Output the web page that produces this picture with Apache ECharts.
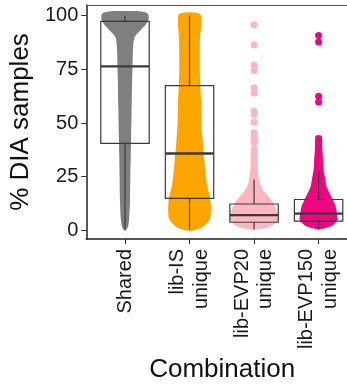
<!DOCTYPE html>
<html><head><meta charset="utf-8">
<script src="https://cdn.jsdelivr.net/npm/echarts@6/dist/echarts.min.js"></script>
<style>html,body{margin:0;padding:0;background:#fff}#c{width:347px;height:388px}</style>
</head><body><div id="c"></div>
<script>
// ---- data ----
const categories = ['Shared', 'lib-IS\nunique', 'lib-EVP20\nunique', 'lib-EVP150\nunique'];
const yTicks = [0, 25, 50, 75, 100];
// boxplot stats: [lower whisker, Q1, median, Q3, upper whisker]
const boxShared = [0.5, 40.5, 76.4, 97.4, 100];
const boxIS = [0.5, 14.9, 35.8, 67.4, 100];
const boxEVP20 = [0.5, 3.8, 7.1, 12.3, 23.7];
const boxEVP150 = [0.5, 4.3, 7.8, 14.4, 27.6];
// point-cloud outline: [value, half-width in category units]
const profileShared = [[102.2,0],[102.2,0.185],[101.5,0.325],[100.5,0.363],[98,0.363],[96,0.325],[93.5,0.247],[91,0.17],[89,0.139],[86,0.127],[82,0.121],[70,0.111],[58,0.104],[45,0.096],[36,0.09],[25,0.083],[13,0.077],[5.4,0.065],[2.3,0.051],[0.7,0.031],[-0.2,0]];
const profileIS = [[101.6,0],[101.4,0.108],[100.8,0.162],[99.5,0.181],[95,0.178],[89.6,0.162],[80,0.159],[74,0.159],[65,0.17],[58.6,0.181],[50,0.185],[44,0.198],[39.5,0.209],[31.8,0.232],[24,0.258],[19,0.286],[15.7,0.317],[9.8,0.332],[5.4,0.317],[2.3,0.232],[0.7,0.139],[-0.3,0]];
const profileEVP20 = [[39.5,0],[38.5,0.046],[30,0.054],[23.7,0.077],[20.5,0.108],[17.5,0.17],[14.4,0.258],[11.3,0.325],[8.2,0.36],[5.1,0.379],[2.8,0.309],[1.2,0.201],[0.2,0]];
const profileEVP150 = [[44.5,0],[44,0.049],[38,0.057],[32,0.07],[28.4,0.077],[23.7,0.104],[20.6,0.121],[17.5,0.167],[14.4,0.216],[11.3,0.263],[8.2,0.283],[5.1,0.294],[2.8,0.232],[1.2,0.124],[0.3,0]];
// isolated points
const dotsEVP20 = [95.8, 86.5, 77, 74.5, 66.5, 64, 55.5, 54, 50.5, 45.5, 43.8, 42.3, 41];
const dotsEVP150 = [90.8, 87.8, 62.5, 59.8];

// ---- styling / assembly ----
const colors = ['#7f7f7f', '#ffa500', '#ffb6c1', '#f0047f'];
const profiles = [profileShared, profileIS, profileEVP20, profileEVP150];
const boxes = [boxShared, boxIS, boxEVP20, boxEVP150];
const boxHalf = 0.375;
const lineCol = '#3a3a3a';

const chart = echarts.init(document.getElementById('c'), null, {renderer: 'canvas'});

function renderCloud(params, api) {
  const g = api.value(0);
  const prof = profiles[g];
  const pts = [];
  for (let i = 0; i < prof.length; i++) pts.push(api.coord([g + prof[i][1], prof[i][0]]));
  for (let i = prof.length - 1; i >= 0; i--) pts.push(api.coord([g - prof[i][1], prof[i][0]]));
  return {type: 'polygon', shape: {points: pts, smooth: 0.25}, style: {fill: colors[g], stroke: null}};
}

function renderBox(params, api) {
  const g = api.value(0);
  const b = boxes[g];
  const l = api.coord([g - boxHalf, b[3]]);
  const r = api.coord([g + boxHalf, b[1]]);
  const cMax = api.coord([g, b[4]]), cQ3 = api.coord([g, b[3]]);
  const cQ1 = api.coord([g, b[1]]), cMin = api.coord([g, b[0]]);
  const mL = api.coord([g - boxHalf, b[2]]), mR = api.coord([g + boxHalf, b[2]]);
  const st = {stroke: lineCol, lineWidth: 1.2, fill: null};
  return {type: 'group', children: [
    {type: 'line', shape: {x1: cMax[0], y1: cMax[1], x2: cQ3[0], y2: cQ3[1]}, style: st},
    {type: 'line', shape: {x1: cQ1[0], y1: cQ1[1], x2: cMin[0], y2: cMin[1]}, style: st},
    {type: 'rect', shape: {x: l[0], y: l[1], width: r[0] - l[0], height: r[1] - l[1]}, style: st},
    {type: 'line', shape: {x1: mL[0], y1: mL[1], x2: mR[0], y2: mR[1]}, style: {stroke: lineCol, lineWidth: 2.4}}
  ]};
}

const idx = categories.map((c, i) => [i, 50]);
const ff = 'Liberation Sans, Arial, sans-serif';
const catPos = categories.map((c, i) => i);

chart.setOption({
  animation: false,
  grid: {left: 85.5, top: 5, bottom: 149, right: 0, show: false},
  xAxis: [{
    type: 'value', min: -0.6, max: 3.44,
    name: 'Combination', nameLocation: 'middle', nameGap: 113,
    nameTextStyle: {fontFamily: ff, fontSize: 26, color: '#111', padding: [0, 0, 0, 11]},
    axisLine: {show: true, onZero: false, lineStyle: {color: '#222', width: 1.5}},
    axisTick: {show: true, length: 5, customValues: catPos, lineStyle: {color: '#333', width: 1}},
    axisLabel: {rotate: 90, margin: 10, customValues: catPos, formatter: v => categories[Math.round(v)], fontFamily: ff, fontSize: 20, color: '#1a1a1a', lineHeight: 23.5},
    splitLine: {show: false}
  }, {
    type: 'value', min: -0.6, max: 3.44, position: 'top',
    axisLine: {show: true, onZero: false, lineStyle: {color: '#555', width: 1}},
    axisTick: {show: false}, axisLabel: {show: false}, splitLine: {show: false}
  }],
  yAxis: {
    type: 'value', min: -4, max: 105,
    name: '% DIA samples', nameLocation: 'middle', nameGap: 48,
    nameTextStyle: {fontFamily: ff, fontSize: 26, color: '#111'},
    axisLine: {show: true, onZero: false, lineStyle: {color: '#222', width: 1.5}},
    axisTick: {show: true, length: 5, customValues: yTicks, lineStyle: {color: '#333', width: 1}},
    axisLabel: {margin: 8, customValues: yTicks, formatter: v => String(v), fontFamily: ff, fontSize: 20, color: '#1a1a1a'},
    splitLine: {show: false}
  },
  series: [
    {type: 'custom', renderItem: renderCloud, data: idx, encode: {x: 0, y: 1}, z: 2, silent: true},
    {type: 'scatter', data: dotsEVP20.map(v => [2, v]), symbolSize: 7, itemStyle: {color: colors[2], opacity: 1}, z: 2, silent: true},
    {type: 'scatter', data: dotsEVP150.map(v => [3, v]), symbolSize: 7, itemStyle: {color: colors[3], opacity: 1}, z: 2, silent: true},
    {type: 'custom', renderItem: renderBox, data: idx, encode: {x: 0, y: 1}, z: 3, silent: true}
  ]
});
</script>
</body></html>
